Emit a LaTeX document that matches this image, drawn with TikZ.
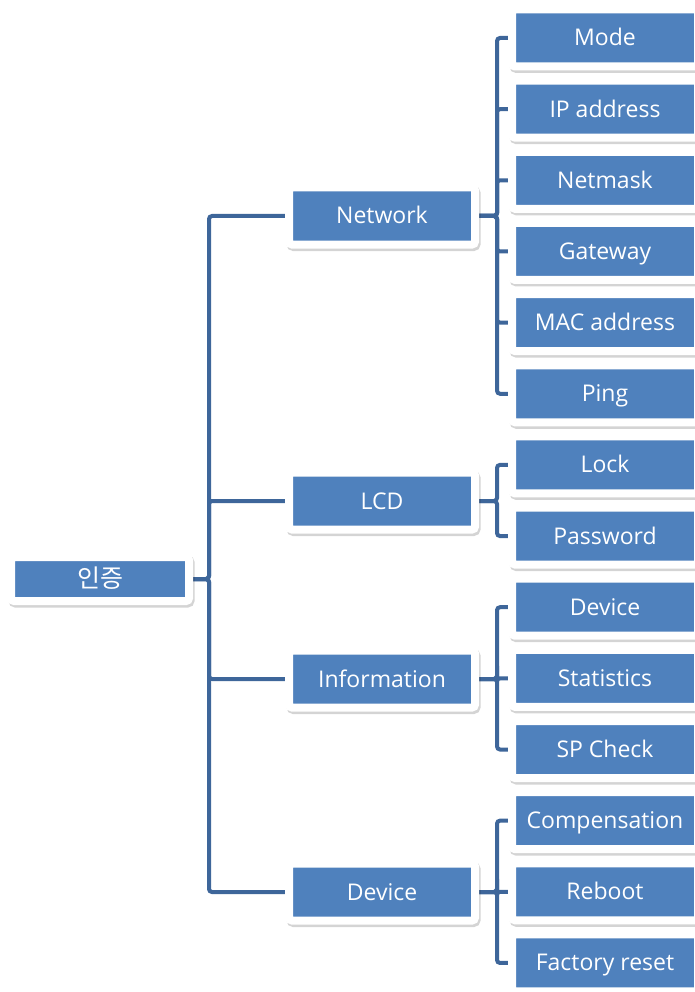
\documentclass[tikz,border=0pt]{standalone}
\usepackage{fontspec}
\setmainfont{Open Sans}
\newfontfamily\kofont{Noto Sans CJK KR}
\usetikzlibrary{backgrounds}
\definecolor{boxblue}{RGB}{79,129,189}
\definecolor{linkblue}{RGB}{62,102,154}

\tikzset{
  menubox/.style={fill=boxblue, draw=white, line width=8pt, rounded corners=3pt,
    text=white, font=\fontsize{23}{26}\selectfont, inner sep=0pt,
    text height=18pt, text depth=2pt,
    minimum width=186, minimum height=57,
    preaction={draw=black, fill=black, opacity=0.17, transform canvas={xshift=1.5pt, yshift=-2.5pt}}},
  link/.style={linkblue, line width=4pt, rounded corners=3pt}
}

\begin{document}
\begin{tikzpicture}[x=1pt, y=-1pt]
  \useasboundingbox (0,0) rectangle (694,992);
  \node [menubox, minimum width=178, minimum height=44,
    font=\kofont\fontsize{25}{28}\selectfont] (root) at (100,579) {인증};
  \node [menubox] (network) at (382,216) {Network};
  \node [menubox] (lcd) at (382,501) {LCD};
  \node [menubox] (info) at (382,679) {Information};
  \node [menubox] (device) at (382,892) {Device};
  % leaves, one row every 71px
  \foreach \name/\txt [count=\i from 0] in {mode/Mode, ipaddr/IP address, netmask/Netmask,
      gateway/Gateway, macaddr/MAC address, ping/Ping, lock/Lock, passwd/Password,
      devinfo/Device, stats/Statistics, spcheck/SP Check, comp/Compensation,
      reboot/Reboot, factory/Factory reset}
    \node [menubox] (\name) at (605,38+71.15*\i) {\txt};
  \begin{scope}[on background layer]
    \foreach \sub in {network, lcd, info, device}
      \draw [link] (root.east) -- ++(16,0) |- (\sub.west);
    \foreach \sub in {mode, ipaddr, netmask, gateway, macaddr, ping}
      \draw [link] (network.east) -- ++(18,0) |- (\sub.west);
    \foreach \sub in {lock, passwd}
      \draw [link] (lcd.east) -- ++(18,0) |- (\sub.west);
    \foreach \sub in {devinfo, stats, spcheck}
      \draw [link] (info.east) -- ++(18,0) |- (\sub.west);
    \foreach \sub in {comp, reboot, factory}
      \draw [link] (device.east) -- ++(18,0) |- (\sub.west);
  \end{scope}
\end{tikzpicture}
\end{document}
